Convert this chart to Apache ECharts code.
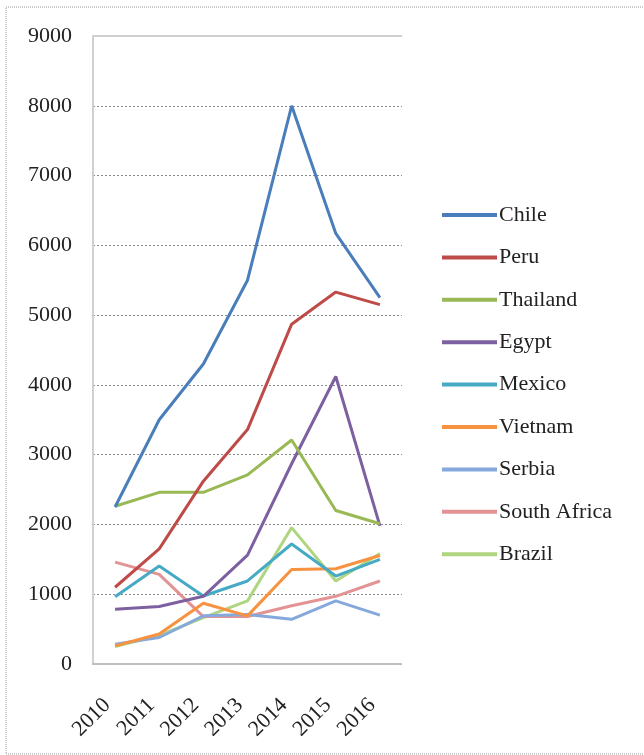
<!DOCTYPE html>
<html>
<head>
<meta charset="utf-8">
<script src="https://cdn.jsdelivr.net/npm/echarts@6/dist/echarts.min.js"></script>
<style>
  html, body { margin: 0; padding: 0; background: #fff; }
  #chart { width: 644px; height: 755px; }
</style>
</head>
<body>
<div id="chart"></div>
<script>
// Years on the category axis
const years = ['2010', '2011', '2012', '2013', '2014', '2015', '2016'];

// Value axis ticks
const yMin = 0;
const yMax = 9000;
const yStep = 1000;

// One array per country
const chile       = [2250, 3500, 4300, 5500, 8000, 6170, 5250];
const peru        = [1100, 1650, 2620, 3360, 4870, 5330, 5150];
const thailand    = [2260, 2460, 2460, 2710, 3210, 2200, 2010];
const egypt       = [785, 825, 970, 1560, 2870, 4120, 1980];
const mexico      = [965, 1405, 975, 1190, 1720, 1260, 1500];
const vietnam     = [260, 430, 870, 690, 1355, 1365, 1555];
const serbia      = [285, 380, 690, 710, 640, 905, 700];
const southAfrica = [1460, 1285, 680, 680, 835, 970, 1190];
const brazil      = [250, 410, 665, 905, 1955, 1190, 1585];

const seriesNames  = ['Chile', 'Peru', 'Thailand', 'Egypt', 'Mexico', 'Vietnam', 'Serbia', 'South Africa', 'Brazil'];
const seriesValues = [chile, peru, thailand, egypt, mexico, vietnam, serbia, southAfrica, brazil];
const seriesColors = ['#4A7EBB', '#BE4B48', '#98B954', '#7D60A0', '#46AAC5', '#F69240', '#86A9DC', '#E39393', '#AFD580'];

const FONT = '"Liberation Serif", "Times New Roman", serif';

const series = seriesNames.map((name, i) => ({
  name: name,
  type: 'line',
  data: seriesValues[i],
  symbol: 'none',
  smooth: false,
  lineStyle: { width: 3, color: seriesColors[i] },
  itemStyle: { color: seriesColors[i] },
  z: 10 - i
}));

// Solid top border line of the plot area at the axis maximum
series[0].markLine = {
  silent: true,
  symbol: 'none',
  label: { show: false },
  lineStyle: { type: 'solid', color: '#cfcfcf', width: 2 },
  data: [{ yAxis: yMax }],
  animation: false
};

const chart = echarts.init(document.getElementById('chart'), null, { renderer: 'canvas' });
chart.setOption({
  animation: false,
  backgroundColor: '#ffffff',
  textStyle: { fontFamily: FONT },
  graphic: [{
    type: 'rect',
    shape: { x: 6, y: 7, width: 660, height: 747 },
    style: { fill: 'none', stroke: '#9a9a9a', lineWidth: 1, lineDash: [1, 1] },
    silent: true,
    z: -10
  }],
  grid: { left: 93, right: 242, top: 36, bottom: 91 },
  legend: {
    orient: 'vertical',
    left: 437,
    top: 199,
    icon: 'rect',
    itemWidth: 55,
    itemHeight: 4,
    itemGap: 20.4,
    data: seriesNames,
    textStyle: { fontFamily: FONT, fontSize: 22, color: '#222', padding: [0, 0, 0, -3] }
  },
  xAxis: {
    type: 'category',
    data: years,
    boundaryGap: true,
    axisLine: { show: true, lineStyle: { color: '#bdbdbd', width: 2, type: [2, 1] } },
    axisTick: { show: false },
    axisLabel: {
      rotate: 45,
      margin: 30,
      padding: [0, 11, 0, 0],
      fontFamily: FONT,
      fontSize: 22,
      color: '#222',
      interval: 0
    },
    splitLine: { show: false }
  },
  yAxis: {
    type: 'value',
    min: yMin,
    max: yMax,
    interval: yStep,
    axisLine: { show: true, lineStyle: { color: '#cfcfcf', width: 2, type: [2, 1] } },
    axisTick: { show: false },
    axisLabel: {
      margin: 21,
      fontFamily: FONT,
      fontSize: 22,
      color: '#222',
      formatter: (v) => String(v)
    },
    splitLine: {
      show: true,
      lineStyle: { color: '#8a8a8a', width: 1, type: [2, 2] }
    }
  },
  series: series
});
</script>
</body>
</html>
